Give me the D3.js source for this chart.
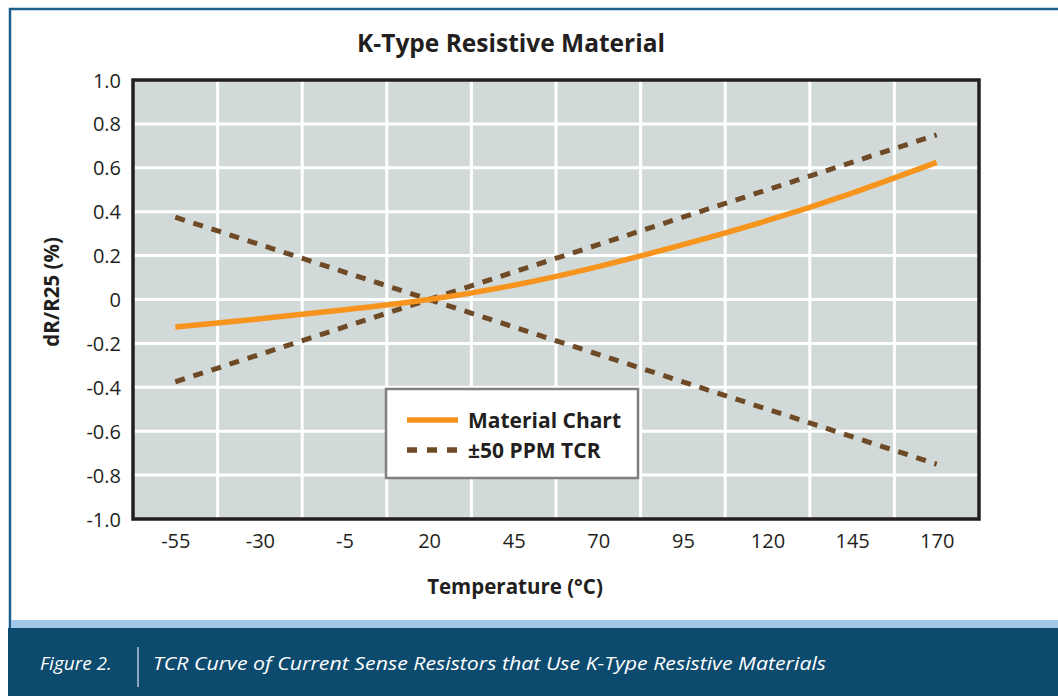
<!DOCTYPE html>
<html>
<head>
<meta charset="utf-8">
<script src="https://cdn.jsdelivr.net/npm/d3@7"></script>
<style>
  body { margin: 0; background: #fff; }
  svg { display: block; font-family: "Open Sans", "Noto Sans", sans-serif; }
</style>
</head>
<body>
<script>
// data
const temps = [-55, -30, -5, 20, 45, 70, 95, 120, 145, 170];
const material = [-0.125, -0.088, -0.047, 0, 0.065, 0.15, 0.25, 0.36, 0.485, 0.625];
const tcrTemps = [-55, 170];
const tcrPlus = [-0.375, 0.75];
const tcrMinus = [0.375, -0.75];
const xTicks = [-55, -30, -5, 20, 45, 70, 95, 120, 145, 170];
const yTicks = [-1.0, -0.8, -0.6, -0.4, -0.2, 0, 0.2, 0.4, 0.6, 0.8, 1.0];
const xGrid = [-42.5, -17.5, 7.5, 32.5, 57.5, 82.5, 107.5, 132.5, 157.5];

const W = 1058, H = 696;
const plot = {left: 133, top: 80, right: 979, bottom: 519};

// plain hyphen for negatives, like the original
const loc = d3.formatLocale({decimal: ".", thousands: ",", grouping: [3], currency: ["", ""], minus: "-"});

const svg = d3.select("body").append("svg")
    .attr("width", W)
    .attr("height", H);

// frame
svg.append("rect").attr("x", 0).attr("y", 0).attr("width", W).attr("height", H).attr("fill", "#fff");
svg.append("path")
    .attr("d", `M10,${H} V9 H${W}`)
    .attr("fill", "none")
    .attr("stroke", "#1c5f8c")
    .attr("stroke-width", 2.5);
svg.append("rect").attr("x", 11).attr("y", 620).attr("width", W - 11).attr("height", 8).attr("fill", "#a0c6e8");
svg.append("rect").attr("x", 8).attr("y", 628).attr("width", W - 8).attr("height", H - 628).attr("fill", "#0c4a6e");

// caption
svg.append("text")
    .attr("x", 40).attr("y", 670)
    .attr("fill", "#fff").attr("font-size", 19).attr("font-style", "italic")
    .text("Figure 2.");
svg.append("line")
    .attr("x1", 138).attr("x2", 138).attr("y1", 647).attr("y2", 687)
    .attr("stroke", "#dfe8f0").attr("stroke-width", 1.2);
svg.append("text")
    .attr("x", 153).attr("y", 670)
    .attr("fill", "#fff").attr("font-size", 19).attr("font-style", "italic")
    .attr("textLength", 673).attr("lengthAdjust", "spacingAndGlyphs")
    .text("TCR Curve of Current Sense Resistors that Use K-Type Resistive Materials");

let x = d3.scaleLinear().domain([-67.5, 182.5]).range([plot.left, plot.right]);
let y = d3.scaleLinear().domain([-1, 1]).range([plot.bottom, plot.top]);

// plot background
svg.append("rect")
    .attr("x", plot.left).attr("y", plot.top)
    .attr("width", plot.right - plot.left).attr("height", plot.bottom - plot.top)
    .attr("fill", "#d2dad9");

// grid
svg.append("g")
    .attr("stroke", "#fff").attr("stroke-width", 3)
  .selectAll("line")
  .data(yTicks.slice(1, -1))
  .join("line")
    .attr("x1", plot.left).attr("x2", plot.right)
    .attr("y1", d => y(d)).attr("y2", d => y(d));
svg.append("g")
    .attr("stroke", "#fff").attr("stroke-width", 3)
  .selectAll("line")
  .data(xGrid)
  .join("line")
    .attr("x1", d => x(d)).attr("x2", d => x(d))
    .attr("y1", plot.top).attr("y2", plot.bottom);

// axes (labels only, the frame is drawn as a box)
const xAxis = svg.append("g")
    .attr("transform", `translate(0,${plot.bottom})`)
    .call(d3.axisBottom(x).tickValues(xTicks).tickSize(0).tickPadding(11).tickFormat(loc.format("d")));
const yAxis = svg.append("g")
    .attr("transform", `translate(${plot.left},0)`)
    .call(d3.axisLeft(y).tickValues(yTicks).tickSize(0).tickPadding(12)
      .tickFormat(d => d === 0 ? "0" : loc.format(".1f")(d)));
[xAxis, yAxis].forEach(a => {
  a.select(".domain").remove();
  a.selectAll("text")
      .attr("font-family", "'Open Sans', sans-serif")
      .attr("font-size", 20)
      .attr("fill", "#231f20");
});
xAxis.selectAll("text").attr("dy", "0.9em");
yAxis.selectAll("text").attr("dy", "0.35em");

// lines
const line = d3.line().x(d => x(d[0])).y(d => y(d[1]));
const curve = d3.line().x(d => x(d[0])).y(d => y(d[1])).curve(d3.curveNatural);

svg.append("path")
    .datum(d3.zip(tcrTemps, tcrPlus))
    .attr("d", line)
    .attr("fill", "none").attr("stroke", "#6e4a26")
    .attr("stroke-width", 5).attr("stroke-dasharray", "10,9");
svg.append("path")
    .datum(d3.zip(tcrTemps, tcrMinus))
    .attr("d", line)
    .attr("fill", "none").attr("stroke", "#6e4a26")
    .attr("stroke-width", 5).attr("stroke-dasharray", "10,9");
svg.append("path")
    .datum(d3.zip(temps, material))
    .attr("d", curve)
    .attr("fill", "none").attr("stroke", "#f7941d")
    .attr("stroke-width", 5.5);

// plot border
svg.append("rect")
    .attr("x", plot.left).attr("y", plot.top)
    .attr("width", plot.right - plot.left).attr("height", plot.bottom - plot.top)
    .attr("fill", "none").attr("stroke", "#231f20").attr("stroke-width", 3.5);

// legend
const lg = svg.append("g").attr("transform", "translate(386,389)");
lg.append("rect")
    .attr("width", 252).attr("height", 89)
    .attr("fill", "#fff").attr("stroke", "#808080").attr("stroke-width", 2.5);
lg.append("line")
    .attr("x1", 21).attr("x2", 72).attr("y1", 31).attr("y2", 31)
    .attr("stroke", "#f7941d").attr("stroke-width", 5.5);
lg.append("line")
    .attr("x1", 21).attr("x2", 72).attr("y1", 61).attr("y2", 61)
    .attr("stroke", "#6e4a26").attr("stroke-width", 5.5).attr("stroke-dasharray", "10,10");
lg.append("text")
    .attr("x", 82).attr("y", 39)
    .attr("font-size", 21).attr("font-weight", "bold").attr("fill", "#231f20")
    .text("Material Chart");
lg.append("text")
    .attr("x", 82).attr("y", 69)
    .attr("font-size", 21).attr("font-weight", "bold").attr("fill", "#231f20")
    .text("±50 PPM TCR");

// titles
svg.append("text")
    .attr("x", 511).attr("y", 52)
    .attr("text-anchor", "middle")
    .attr("font-size", 24.5).attr("font-weight", "bold").attr("fill", "#231f20")
    .text("K-Type Resistive Material");
svg.append("text")
    .attr("x", 515).attr("y", 594)
    .attr("text-anchor", "middle")
    .attr("font-size", 20.5).attr("font-weight", "bold").attr("fill", "#231f20")
    .text("Temperature (°C)");
svg.append("text")
    .attr("transform", "translate(59,292) rotate(-90)")
    .attr("text-anchor", "middle")
    .attr("font-size", 20.5).attr("font-weight", "bold").attr("fill", "#231f20")
    .text("dR/R25 (%)");
</script>
</body>
</html>
